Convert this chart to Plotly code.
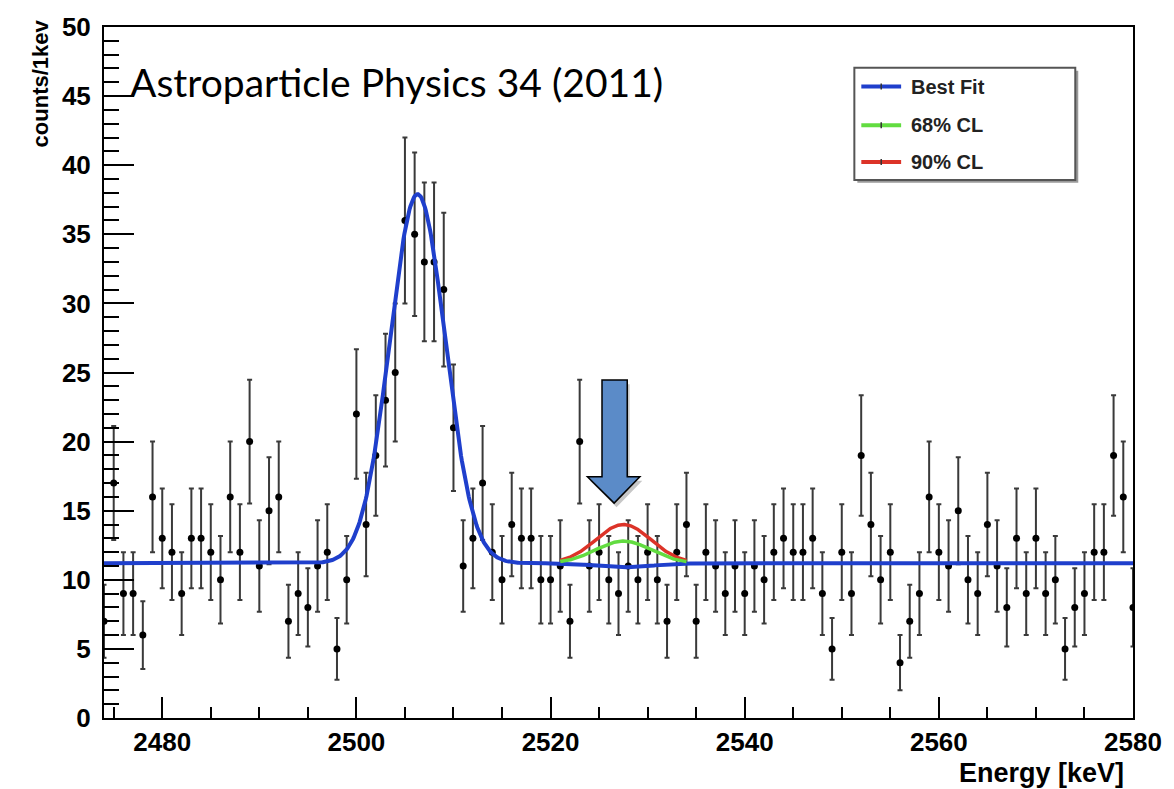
import numpy as np
import plotly.graph_objects as go

# ---------------- data ----------------
energy_kev = list(range(2474, 2581))
counts = [7, 17, 9, 9, 6, 16, 13, 12, 9, 13, 13, 12, 10, 16, 12, 20, 11, 15, 16, 7, 9, 8, 11, 12, 5, 10,
          22, 14, 19, 23, 25, 36, 35, 33, 33, 31, 21, 11, 13, 17, 12, 10, 14, 13, 13, 10,
          10, 11, 7, 20, 11, 12, 10, 9, 11, 10, 12, 10, 7, 12, 14, 7, 12, 11, 9, 11,
          9, 11, 10, 12, 13, 12, 12, 13, 9, 5, 12, 9, 19, 14, 10, 12, 4, 7, 9, 16,
          12, 11, 15, 10, 9, 14, 11, 8, 13, 9, 13, 9, 10, 5, 8, 9, 12, 12, 19, 16, 8]
count_errors = [float(np.sqrt(c)) for c in counts]

# fit model parameters (Gaussian peaks on flat background)
fit_baseline = 11.2
co_peak_mu = 2506.3
co_peak_amp = 26.7
resolution_sigma = 2.85
q_value = 2527.5
best_fit_signal = -0.3
cl68_signal = 1.6
cl90_signal = 2.8
cl_range = [2521.0, 2534.0]

x_range = [2474, 2580]
y_range = [0, 50]
x_ticks = [2480, 2500, 2520, 2540, 2560, 2580]
y_ticks = [0, 5, 10, 15, 20, 25, 30, 35, 40, 45, 50]

legend_labels = ["Best Fit", "68% CL", "90% CL"]
title_text = "Astroparticle Physics 34 (2011)"


def gauss(x, mu, amp, sig):
    return amp * np.exp(-0.5 * ((x - mu) / sig) ** 2)


xf = np.linspace(x_range[0], x_range[1], 1200)
best_fit = fit_baseline + gauss(xf, co_peak_mu, co_peak_amp, resolution_sigma) \
    + gauss(xf, q_value, best_fit_signal, resolution_sigma)
xc = np.linspace(cl_range[0], cl_range[1], 300)
cl68 = fit_baseline + gauss(xc, q_value, cl68_signal, resolution_sigma)
cl90 = fit_baseline + gauss(xc, q_value, cl90_signal, resolution_sigma)

BLUE = "#1f3fcc"
GREEN = "#62dc40"
RED = "#dc3328"

fig = go.Figure()
fig.add_trace(go.Scatter(
    x=energy_kev, y=counts, mode="markers",
    marker=dict(color="black", size=7),
    error_y=dict(type="data", array=count_errors, color="#3a3a3a", thickness=2, width=2.5),
    showlegend=False))
fig.add_trace(go.Scatter(x=xf, y=best_fit, mode="lines", line=dict(color=BLUE, width=4),
                         showlegend=False))
fig.add_trace(go.Scatter(x=xc, y=cl90, mode="lines", line=dict(color=RED, width=3.5),
                         showlegend=False))
fig.add_trace(go.Scatter(x=xc, y=cl68, mode="lines", line=dict(color=GREEN, width=3.5),
                         showlegend=False))

# layout geometry (pixels)
W, H = 1174, 789
L, R, T, B = 104, 36, 22, 71
PW, PH = W - L - R, H - T - B


def px(xp):
    return (xp - L) / PW


def py(yp):
    return (H - B - yp) / PH


shapes = []
annotations = []

# arrow (data coordinates), with soft shadow
arrow_pts = [(2525.3, 24.45), (2527.9, 24.45), (2527.9, 17.46), (2529.2, 17.46),
             (2526.55, 15.55), (2523.8, 17.46), (2525.3, 17.46)]


def path_of(pts, dx=0.0, dy=0.0):
    s = "M " + " L ".join(f"{x + dx},{y + dy}" for x, y in pts) + " Z"
    return s


shapes.append(dict(type="path", xref="x", yref="y", path=path_of(arrow_pts, 0.25, -0.3),
                   fillcolor="rgba(0,0,0,0.22)", line=dict(width=0), layer="above"))
shapes.append(dict(type="path", xref="x", yref="y", path=path_of(arrow_pts),
                   fillcolor="#5b8bc8", line=dict(color="black", width=1.5), layer="above"))

# legend box (manual, ROOT style)
lx0, lx1, ly0, ly1 = 858, 1080, 63, 176
shapes.append(dict(type="rect", xref="paper", yref="paper",
                   x0=px(lx0 + 3), x1=px(lx1 + 3), y0=py(ly1 + 3), y1=py(ly0 + 3),
                   fillcolor="#9a9a9a", line=dict(width=0), layer="above"))
shapes.append(dict(type="rect", xref="paper", yref="paper",
                   x0=px(lx0), x1=px(lx1), y0=py(ly1), y1=py(ly0),
                   fillcolor="white", line=dict(color="#555555", width=2), layer="above"))
row_y = [82, 121, 158]
row_col = [BLUE, GREEN, RED]
for yy, col, lab in zip(row_y, row_col, legend_labels):
    shapes.append(dict(type="line", xref="paper", yref="paper",
                       x0=px(865), x1=px(905), y0=py(yy), y1=py(yy),
                       line=dict(color=col, width=4), layer="above"))
    shapes.append(dict(type="line", xref="paper", yref="paper",
                       x0=px(885), x1=px(885), y0=py(yy - 3), y1=py(yy + 3),
                       line=dict(color="#333333", width=1.5), layer="above"))
    annotations.append(dict(text=lab, xref="paper", yref="paper", x=px(913), y=py(yy),
                            xanchor="left", yanchor="middle", showarrow=False,
                            font=dict(family="Liberation Sans", size=20, color="#222222",
                                      weight="bold")))

# headline text
annotations.append(dict(text=title_text, xref="paper", yref="paper", x=px(128), y=py(77),
                        xanchor="left", yanchor="middle", showarrow=False,
                        font=dict(family="Lato", size=39, color="black")))
# axis titles
annotations.append(dict(text="counts/1kev", xref="paper", yref="paper", x=px(40), y=py(12),
                        xanchor="center", yanchor="top", textangle=-90, showarrow=False,
                        font=dict(family="Liberation Sans", size=22, color="black",
                                  weight="bold")))
annotations.append(dict(text="Energy [keV]", xref="paper", yref="paper", x=px(1131), y=py(773),
                        xanchor="right", yanchor="middle", showarrow=False,
                        font=dict(family="Liberation Sans", size=27, color="black",
                                  weight="bold")))

tickfont = dict(family="Liberation Sans", size=26, color="black", weight="bold")
fig.update_layout(
    width=W, height=H,
    margin=dict(l=L, r=R, t=T, b=B),
    plot_bgcolor="white", paper_bgcolor="white",
    showlegend=False,
    shapes=shapes, annotations=annotations,
    xaxis=dict(range=x_range, tickvals=x_ticks, ticks="inside", ticklen=21, tickwidth=2,
               tickcolor="black", showgrid=False, zeroline=False, showline=True,
               linecolor="black", linewidth=2, mirror=True, tickfont=tickfont,
               ticklabelstandoff=0,
               minor=dict(dtick=5, tick0=2480, ticks="inside", ticklen=11, tickwidth=1.5,
                          tickcolor="black", showgrid=False)),
    yaxis=dict(range=y_range, tickvals=y_ticks, ticks="inside", ticklen=30, tickwidth=2,
               tickcolor="black", showgrid=False, zeroline=False, showline=True,
               linecolor="black", linewidth=2, mirror=True, tickfont=tickfont,
               ticklabelstandoff=6,
               minor=dict(dtick=1, tick0=0, ticks="inside", ticklen=15, tickwidth=1.5,
                          tickcolor="black", showgrid=False)),
)

fig.write_html("out.html")
